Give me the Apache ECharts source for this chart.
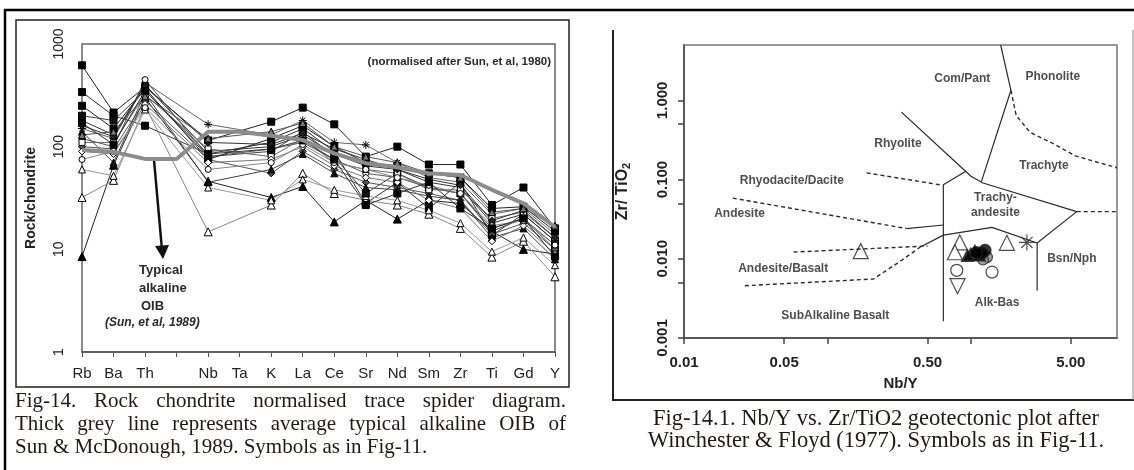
<!DOCTYPE html>
<html>
<head>
<meta charset="utf-8">
<script src="https://cdn.jsdelivr.net/npm/echarts@6.0.0/dist/echarts.min.js"></script>
<style>
  html, body { margin: 0; padding: 0; background: #fff; }
  #chart { width: 1134px; height: 470px; }
</style>
</head>
<body>
<div id="chart"></div>
<script>
// ---- Fig-14: chondrite normalised spider diagram (left) ----
var elements = ['Rb', 'Ba', 'Th', '', 'Nb', 'Ta', 'K', 'La', 'Ce', 'Sr', 'Nd', 'Sm', 'Zr', 'Ti', 'Gd', 'Y'];
var oib = [93, 89, 76, 76, 140, 140, 128, 116, 86, 69, 63, 55, 53, 38, 28, 16.5];

// samples (U and Ta not analysed -> null)
var s01 = [620, 215, 380, null, 115, null, 175, 240, 165, 80, 100, 67, 67, 27, 40, 16];
var s02 = [340, 200, 160, null, 85, null, 110, 150, 90, 28, 45, 25, 45, 13.7, 22, 12];
var s03 = [8.5, 66, 300, null, 46, null, 32, 41, 18.5, 30, 19.7, 30, 28, 15, 10, 9];
var s04 = [32, 47, 250, null, 14.8, null, 27, 55, 35, 30, 27, 22, 16, 8.4, 12, 5.4];
var s05 = [60, 52, 230, null, 40, null, 30, 48, 38, 33, 30, 24, 18, 9.5, 13, 7];
var s06 = [200, 180, 350, null, 80, null, 90, 140, 80, 35, 55, 40, 35, 15, 20, 10];
var s07 = [150, 120, 420, null, 165, null, 130, 180, 110, 104, 70, 50, 45, 22, 25, 14];
var s08 = [180, 130, 400, null, 90, null, 100, 130, 85, 65, 60, 45, 40, 18, 22, 12];
var s09 = [120, 100, 450, null, 80, null, 95, 110, 75, 55, 50, 40, 35, 16, 20, 11];
var s10 = [100, 95, 280, null, 75, null, 55, 90, 60, 45, 40, 35, 30, 14, 18, 10];
var s11 = [140, 70, 330, null, 45, null, 60, 85, 55, 40, 38, 33, 30, 13, 16, 8];
var s12 = [110, 110, 320, null, 95, null, 80, 120, 70, 60, 55, 38, 38, 20, 23, 13];
var s13 = [250, 150, 370, null, 75, null, 120, 160, 100, 70, 65, 55, 50, 25, 26, 15];
var s14 = [90, 85, 260, null, 70, null, 75, 100, 65, 50, 45, 30, 25, 12, 17, 9];
var s15 = [160, 125, 390, null, 110, null, 105, 135, 95, 75, 60, 48, 42, 19, 24, 13];
var s16 = [130, 140, 310, null, 120, null, 140, 170, 100, 80, 70, 55, 50, 23, 25, 17];
var s17 = [75, 90, 240, null, 60, null, 70, 105, 70, 60, 50, 42, 35, 17, 19, 11];
var s18 = [170, 105, 350, null, 85, null, 95, 115, 75, 27, 35, 45, 25, 16, 20, 8.5];
var samples = [s01, s02, s03, s04, s05, s06, s07, s08, s09, s10, s11, s12, s13, s14, s15, s16, s17, s18];

// ---- Fig-14.1: Winchester & Floyd Nb/Y vs Zr/TiO2 (right) ----
// solid field boundaries [Nb/Y, Zr/TiO2]
var bComPant = [[1.62, 5], [1.91, 1.34], [1.19, 0.095]];
var bRhyolite = [[0.329, 0.71], [1.005, 0.110], [1.22, 0.0905], [5.5, 0.0394]];
var bTrachyAnd = [[0.925, 0.127], [0.645, 0.0863], [0.645, 0.00163]];
var bAndTA = [[0.357, 0.0241], [0.645, 0.0267]];
var bAlkBas = [[0.645, 0.0199], [1.41, 0.0249], [2.91, 0.0158], [5.5, 0.0394]];
var bBsnNph = [[2.91, 0.0158], [2.91, 0.00394]];
var bSubAlk = [[0.443, 0.014], [0.645, 0.0199]];
// dashed field boundaries
var dRhyodacite = [[0.188, 0.1215], [0.635, 0.0848]];
var dAndesite = [[0.0219, 0.0583], [0.357, 0.0241]];
var dAndBasUpper = [[0.0582, 0.01216], [0.5, 0.0145]];
var dAndBasLower = [[0.0266, 0.00457], [0.21, 0.00556], [0.329, 0.00953], [0.443, 0.014]];
var dPhonolite = [[1.91, 1.34], [2.08, 0.644], [2.6, 0.394], [3.64, 0.294], [5.38, 0.199], [10.5, 0.141]];
var dTrachyte = [[5.5, 0.0394], [10.5, 0.0394]];

// field names [Nb/Y, Zr/TiO2, text]
var fieldNames = [
  [0.875, 1.89, 'Com/Pant'], [3.74, 1.99, 'Phonolite'], [0.311, 0.288, 'Rhyolite'],
  [3.25, 0.148, 'Trachyte'], [0.0565, 0.097, 'Rhyodacite/Dacite'], [0.0244, 0.0375, 'Andesite'],
  [1.49, 0.048, 'Trachy-\nandesite'], [0.0492, 0.00745, 'Andesite/Basalt'], [5.08, 0.01, 'Bsn/Nph'],
  [1.53, 0.0028, 'Alk-Bas'], [0.1137, 0.00189, 'SubAlkaline Basalt']
];

// samples plotted on the diagram
var wfOpenTri = [[0.171, 0.0125], [0.84, 0.0161], [1.79, 0.0159], [0.776, 0.0121]];
var wfFilledTri = [[1.0, 0.0115], [1.07, 0.0125], [1.15, 0.0112], [0.95, 0.011]];
var wfFilledCircle = [[1.26, 0.0128], [1.2, 0.0118], [1.1, 0.012]];
var wfGreyCircle = [[1.3, 0.0105], [1.22, 0.0098]];
var wfOpenCircle = [[0.80, 0.00716], [1.41, 0.0068]];
var wfInvTri = [[0.81, 0.00451]];
var wfStar = [[2.47, 0.0161]];

var xTicksWF = [0.01, 0.05, 0.1, 0.5, 1, 5];
var xLabelsWF = [0.01, 0.05, 0.5, 5];
var yTicksWF = [0.001, 0.005, 0.01, 0.05, 0.1, 0.5, 1];
var yLabelsWF = [0.001, 0.01, 0.1, 1];

// marker look for each spider sample
var star = 'path://M5,0L5,10M0,5L10,5M1.5,1.5L8.5,8.5M1.5,8.5L8.5,1.5';
var sampleStyles = [
  {symbol: 'rect', fill: '#000', line: '#222', size: 7},
  {symbol: 'rect', fill: '#000', line: '#333', size: 7},
  {symbol: 'triangle', fill: '#000', line: '#222', size: 8},
  {symbol: 'triangle', fill: '#fff', line: '#888', size: 8},
  {symbol: 'triangle', fill: '#fff', line: '#999', size: 7},
  {symbol: 'rect', fill: '#111', line: '#444', size: 7},
  {symbol: star, fill: 'none', line: '#666', size: 8},
  {symbol: 'circle', fill: '#222', line: '#333', size: 6},
  {symbol: 'circle', fill: '#fff', line: '#555', size: 6},
  {symbol: 'diamond', fill: '#555', line: '#555', size: 7},
  {symbol: 'triangle', fill: '#111', line: '#444', size: 7},
  {symbol: 'rect', fill: '#fff', line: '#666', size: 6},
  {symbol: 'rect', fill: '#000', line: '#222', size: 7},
  {symbol: 'diamond', fill: '#fff', line: '#777', size: 7},
  {symbol: 'diamond', fill: '#222', line: '#333', size: 7},
  {symbol: 'triangle', fill: '#777', line: '#555', size: 7},
  {symbol: 'circle', fill: '#fff', line: '#888', size: 6},
  {symbol: 'rect', fill: '#000', line: '#333', size: 7}
];

var chart = echarts.init(document.getElementById('chart'), null, {renderer: 'canvas'});

var series = [];
samples.forEach(function(vals, i) {
  var st = sampleStyles[i];
  series.push({
    type: 'line', xAxisIndex: 0, yAxisIndex: 0, data: vals, connectNulls: true,
    symbol: st.symbol, symbolSize: st.size, showAllSymbol: true,
    lineStyle: {color: st.line, width: 1},
    itemStyle: {color: st.fill, borderColor: '#000', borderWidth: 1},
    z: 2, silent: true
  });
});
series.push({
  type: 'line', xAxisIndex: 0, yAxisIndex: 0, data: oib, symbol: 'none',
  lineStyle: {color: '#8c8c8c', width: 4}, z: 3, silent: true
});

function boundary(data, dashed) {
  return {
    type: 'line', xAxisIndex: 1, yAxisIndex: 1, data: data, symbol: 'none', silent: true,
    lineStyle: {color: '#2a2a2a', width: dashed ? 1.4 : 1.2, type: dashed ? [4, 3] : 'solid'}
  };
}
[bComPant, bRhyolite, bTrachyAnd, bAndTA, bAlkBas, bBsnNph, bSubAlk].forEach(function(d) { series.push(boundary(d, false)); });
[dRhyodacite, dAndesite, dAndBasUpper, dAndBasLower, dPhonolite, dTrachyte].forEach(function(d) { series.push(boundary(d, true)); });

series.push({
  type: 'scatter', xAxisIndex: 1, yAxisIndex: 1, data: fieldNames, symbolSize: 0, silent: true,
  label: {show: true, position: 'inside', formatter: function(p) { return p.data[2]; },
    color: '#222', fontFamily: 'Arial', fontWeight: 'bold', fontSize: 12, lineHeight: 15}
});

function pts(data, symbol, size, fill, rotate) {
  return {
    type: 'scatter', xAxisIndex: 1, yAxisIndex: 1, data: data, symbol: symbol, symbolSize: size,
    symbolRotate: rotate || 0, silent: true,
    itemStyle: {color: fill, borderColor: '#222', borderWidth: 1.2}
  };
}
series.push(pts(wfOpenTri, 'triangle', 15, '#fff'));
series.push(pts(wfOpenCircle, 'circle', 12, '#fff'));
series.push(pts(wfInvTri, 'triangle', 15, '#fff', 180));
series.push(pts(wfGreyCircle, 'circle', 11, '#888'));
series.push(pts(wfFilledTri, 'triangle', 12, '#000'));
series.push(pts(wfFilledCircle, 'circle', 12, '#000'));
series.push(pts(wfStar, star, 16, 'none'));

// justified caption lines, word by word
var capColor = '#1e1a16';
var capFont = '21px "Liberation Serif", "Times New Roman", serif';
var capFontR = '22.5px "Liberation Serif", "Times New Roman", serif';
var ctx = document.createElement('canvas').getContext('2d');
function captionLine(text, x0, x1, y) {
  ctx.font = capFont;
  var words = text.split(' ');
  var widths = words.map(function(w) { return ctx.measureText(w).width; });
  var total = widths.reduce(function(a, b) { return a + b; }, 0);
  var gap = x1 ? (x1 - x0 - total) / (words.length - 1) : ctx.measureText(' ').width;
  var out = [], x = x0;
  words.forEach(function(w, i) {
    out.push({type: 'text', x: x, y: y, silent: true,
      style: {text: w, font: capFont, fill: capColor, verticalAlign: 'middle'}});
    x += widths[i] + gap;
  });
  return out;
}
function label(text, x, y, font, align) {
  return {type: 'text', x: x, y: y, silent: true,
    style: {text: text, font: font, fill: '#2a2a2a', align: align || 'left', verticalAlign: 'middle'}};
}

var graphics = [
  // outer frames
  {type: 'line', shape: {x1: 4, y1: 10, x2: 1134, y2: 10}, style: {stroke: '#000', lineWidth: 2.5}},
  {type: 'line', shape: {x1: 5, y1: 9, x2: 5, y2: 470}, style: {stroke: '#000', lineWidth: 2.5}},
  {type: 'rect', shape: {x: 16, y: 20, width: 553, height: 367}, style: {fill: 'none', stroke: '#222', lineWidth: 1.5}},
  {type: 'polyline', shape: {points: [[613, 30], [613, 400], [1134, 400]]}, style: {fill: 'none', stroke: '#222', lineWidth: 2}},
  {type: 'line', shape: {x1: 1133, y1: 30, x2: 1133, y2: 400}, style: {stroke: '#888', lineWidth: 1}},
  // spider annotations
  label('(normalised after Sun, et al, 1980)', 551, 62, 'bold 11.5px Arial', 'right'),
  label('Typical', 139, 270, 'bold 13px Arial'),
  label('alkaline', 139, 288, 'bold 13px Arial'),
  label('OIB', 141, 306, 'bold 13px Arial'),
  label('(Sun, et al, 1989)', 105, 323, 'italic bold 12px Arial'),
  {type: 'line', shape: {x1: 154, y1: 160, x2: 162, y2: 250}, style: {stroke: '#111', lineWidth: 2.5}},
  {type: 'polygon', shape: {points: [[155, 246], [169, 245], [163, 259]]}, style: {fill: '#111'}}
];
graphics = graphics
  .concat(captionLine('Fig-14. Rock chondrite normalised trace spider diagram.', 15, 566, 401))
  .concat(captionLine('Thick grey line represents average typical alkaline OIB of', 15, 566, 424))
  .concat(captionLine('Sun & McDonough, 1989. Symbols as in Fig-11.', 15, 0, 447));
graphics.push({type: 'text', x: 876, y: 419, silent: true,
  style: {text: 'Fig-14.1. Nb/Y vs. Zr/TiO2 geotectonic plot after', font: capFontR, fill: capColor, align: 'center', verticalAlign: 'middle'}});
graphics.push({type: 'text', x: 876, y: 441, silent: true,
  style: {text: 'Winchester & Floyd (1977). Symbols as in Fig-11.', font: capFontR, fill: capColor, align: 'center', verticalAlign: 'middle'}});

var option = {
  animation: false,
  backgroundColor: '#fff',
  grid: [
    {left: 82, top: 44, width: 473, height: 308, show: true, borderColor: '#666', borderWidth: 1.5},
    {left: 684, top: 45, width: 433, height: 293, show: true, borderColor: '#777', borderWidth: 1.5}
  ],
  xAxis: [
    {
      gridIndex: 0, type: 'category', data: elements, boundaryGap: false,
      axisLine: {lineStyle: {color: '#555', width: 1.5}},
      axisTick: {length: 5, lineStyle: {color: '#555'}},
      axisLabel: {color: '#222', fontFamily: 'Arial', fontSize: 15, margin: 14, interval: 0},
      splitLine: {show: false}
    },
    {
      gridIndex: 1, type: 'log', logBase: 10, min: 0.01, max: 10.5,
      name: 'Nb/Y', nameLocation: 'middle', nameGap: 38,
      nameTextStyle: {color: '#222', fontFamily: 'Arial', fontWeight: 'bold', fontSize: 15},
      axisLine: {lineStyle: {color: '#444', width: 1.5}},
      axisTick: {length: 6, customValues: xTicksWF, lineStyle: {color: '#444', width: 1.5}},
      axisLabel: {customValues: xLabelsWF, color: '#222', fontFamily: 'Arial', fontWeight: 'bold', fontSize: 15, margin: 17,
        formatter: function(v) { return (+v).toFixed(2); }},
      splitLine: {show: false}
    }
  ],
  yAxis: [
    {
      gridIndex: 0, type: 'log', logBase: 10, min: 1, max: 1000,
      name: 'Rock/chondrite', nameLocation: 'middle', nameGap: 44, nameRotate: 90,
      nameTextStyle: {color: '#222', fontFamily: 'Arial', fontWeight: 'bold', fontSize: 14},
      axisLine: {lineStyle: {color: '#555', width: 2}},
      axisTick: {length: 6, lineStyle: {color: '#555', width: 1.5}},
      axisLabel: {color: '#222', fontFamily: 'Arial', fontSize: 14, rotate: 90, margin: 16,
        formatter: function(v) { return String(Math.round(v)); }},
      splitLine: {show: false}
    },
    {
      gridIndex: 1, type: 'log', logBase: 10, min: 0.001, max: 5,
      name: '{a|Zr/ TiO}{b|2}', nameLocation: 'middle', nameGap: 52, nameRotate: 90,
      nameTextStyle: {rich: {
        a: {color: '#222', fontFamily: 'Arial', fontWeight: 'bold', fontSize: 16},
        b: {color: '#222', fontFamily: 'Arial', fontWeight: 'bold', fontSize: 11, padding: [8, 0, 0, 0]}
      }},
      axisLine: {lineStyle: {color: '#444', width: 1.5}},
      axisTick: {length: 6, customValues: yTicksWF, lineStyle: {color: '#444', width: 1.5}},
      axisLabel: {customValues: yLabelsWF, color: '#222', fontFamily: 'Arial', fontWeight: 'bold', fontSize: 15,
        rotate: 90, margin: 14, formatter: function(v) { return (+v).toFixed(3); }},
      splitLine: {show: false}
    }
  ],
  series: series,
  graphic: graphics
};

chart.setOption(option);
</script>
</body>
</html>
